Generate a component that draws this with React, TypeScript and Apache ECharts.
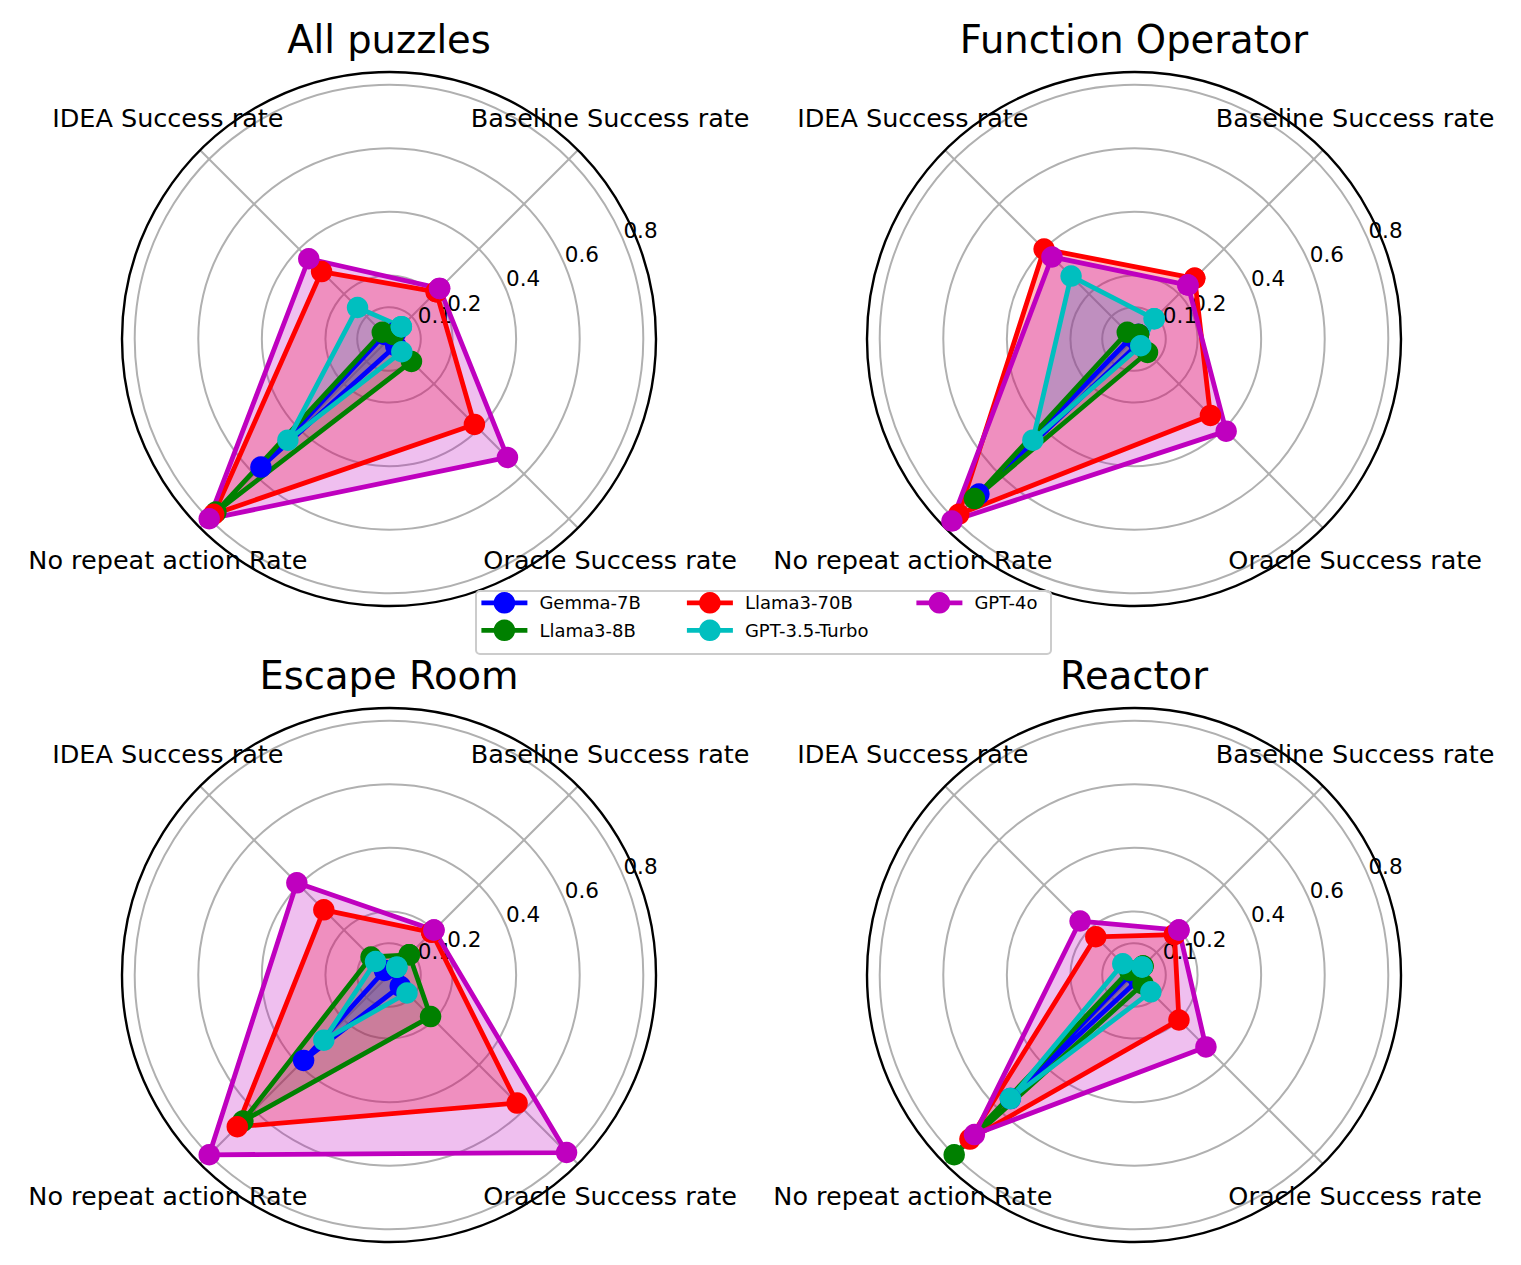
import React, { useEffect, useRef } from 'react';
import * as echarts from 'echarts';

// ---------------- data ----------------
const categories = ['Baseline Success rate', 'IDEA Success rate', 'No repeat action Rate', 'Oracle Success rate'];
const models = ['Gemma-7B', 'Llama3-8B', 'Llama3-70B', 'GPT-3.5-Turbo', 'GPT-4o'];
const panelTitles = ['All puzzles', 'Function Operator', 'Escape Room', 'Reactor'];
const radialTicks = [0.1, 0.2, 0.4, 0.6, 0.8];

// values per model, in category order: Baseline, IDEA, No repeat, Oracle
const allPuzzles = [
  [0.03, 0.02, 0.57, 0.03],
  [0.02, 0.03, 0.77, 0.10],
  [0.21, 0.30, 0.78, 0.38],
  [0.055, 0.14, 0.45, 0.057],
  [0.225, 0.357, 0.80, 0.527],
];
const functionOperator = [
  [0.02, 0.01, 0.69, 0.02],
  [0.02, 0.03, 0.71, 0.06],
  [0.27, 0.40, 0.78, 0.34],
  [0.09, 0.28, 0.45, 0.03],
  [0.24, 0.365, 0.81, 0.41],
];
const escapeRoom = [
  [0.03, 0.02, 0.38, 0.05],
  [0.09, 0.08, 0.65, 0.185],
  [0.19, 0.29, 0.675, 0.57],
  [0.035, 0.06, 0.29, 0.08],
  [0.20, 0.41, 0.80, 0.79],
];
const reactor = [
  [0.02, 0.01, 0.55, 0.02],
  [0.04, 0.02, 0.80, 0.04],
  [0.18, 0.17, 0.73, 0.20],
  [0.036, 0.05, 0.55, 0.075],
  [0.20, 0.24, 0.71, 0.32],
];
const panelValues = [allPuzzles, functionOperator, escapeRoom, reactor];

// ---------------- style / layout ----------------
const modelColors = ['#0000ff', '#008000', '#ff0000', '#00bfbf', '#bf00bf'];
const FONT = 'DejaVu Sans';
const centers = [[389, 339], [1134, 339], [389, 975], [1134, 975]];
const titleTops = [20, 20, 656, 656];
const RADIUS = 267;
const R_MAX = 0.84;
const R_STEP = 0.1;
const GRID_GREY = '#b0b0b0';
const LINE_W = 4.8;
const legendPos = [[479, 592], [479, 619.5], [684.5, 592], [684.5, 619.5], [914, 592]];

function App() {
  const ref = useRef<HTMLDivElement>(null);
  useEffect(() => {
    document.body.style.margin = '0';
    if (!ref.current) return;
    const chart = echarts.init(ref.current, null, { renderer: 'svg' });

    const nSteps = Math.round(R_MAX / R_STEP) + 2;
    const radiusColors: string[] = [];
    for (let k = 0; k < nSteps; k++) {
      const v = Math.round(k * R_STEP * 10) / 10;
      radiusColors.push(k * R_STEP <= R_MAX && radialTicks.some((t) => Math.abs(t - v) < 1e-9) ? GRID_GREY : 'transparent');
    }

    const angleOf = (i: number) => 45 + 90 * i;

    const series: any[] = [];
    panelValues.forEach((panel, p) => {
      // fills first (below lines)
      panel.forEach((vals, m) => {
        const d = vals.map((v, i) => [v, angleOf(i)]);
        d.push([vals[0], angleOf(0)]);
        series.push({
          type: 'line', coordinateSystem: 'polar', polarIndex: p,
          name: models[m] + ' fill', data: d, symbol: 'none', clip: false,
          lineStyle: { width: 0, color: modelColors[m] },
          areaStyle: { color: modelColors[m], opacity: 0.25 },
          z: 1, silent: true,
        });
      });
      // radial tick labels
      series.push({
        type: 'scatter', coordinateSystem: 'polar', polarIndex: p,
        name: 'rticks' + p,
        data: radialTicks.map((t) => ({ name: String(t), value: [t, 22.5] })),
        symbolSize: 1, itemStyle: { color: 'transparent', opacity: 1 }, clip: false, silent: true, z: 1,
        label: {
          show: true, formatter: '{b}', position: [0, 0], align: 'left', verticalAlign: 'bottom',
          fontSize: 21.5, color: '#000', opacity: 1, fontFamily: FONT,
        },
      });
      // lines
      panel.forEach((vals, m) => {
        const d = vals.map((v, i) => [v, angleOf(i)]);
        d.push([vals[0], angleOf(0)]);
        series.push({
          type: 'line', coordinateSystem: 'polar', polarIndex: p,
          name: models[m], data: d, symbol: 'circle', symbolSize: 21.5, showSymbol: true, clip: false,
          lineStyle: { width: LINE_W, color: modelColors[m] },
          itemStyle: { color: modelColors[m] },
          z: 2, silent: true,
        });
      });
      // category labels
      series.push({
        type: 'scatter', coordinateSystem: 'polar', polarIndex: p,
        name: 'cats' + p,
        data: categories.map((c, i) => ({ name: c, value: [0.984, angleOf(i)] })),
        symbolSize: 1, itemStyle: { color: 'transparent', opacity: 1 }, clip: false, silent: true, z: 3,
        label: {
          show: true, formatter: '{b}', position: 'inside',
          fontSize: 25.5, color: '#000', opacity: 1, textBorderWidth: 0, fontFamily: FONT,
        },
      });
    });

    const option: any = {
      animation: false,
      backgroundColor: '#ffffff',
      textStyle: { fontFamily: FONT },
      title: panelTitles.map((t, i) => ({
        text: t, left: centers[i][0], top: titleTops[i], textAlign: 'center', padding: 0,
        textStyle: { fontSize: 38.5, fontWeight: 'normal', color: '#000', fontFamily: FONT },
      })),
      polar: centers.map((c) => ({ center: c, radius: RADIUS })),
      angleAxis: centers.map((_, i) => ({
        polarIndex: i, type: 'value', min: 0, max: 360, interval: 45, startAngle: 0, clockwise: false,
        axisLine: { show: true, lineStyle: { color: '#000', width: 2.4 } },
        axisTick: { show: false }, axisLabel: { show: false },
        splitLine: { show: true, lineStyle: { color: ['transparent', GRID_GREY], width: 2 } },
      })),
      radiusAxis: centers.map((_, i) => ({
        polarIndex: i, type: 'value', min: 0, max: R_MAX, interval: R_STEP,
        axisLine: { show: false }, axisTick: { show: false }, axisLabel: { show: false },
        splitLine: { show: true, lineStyle: { color: radiusColors, width: 2 } },
      })),
      legend: models.map((m, i) => ({
        data: [m], left: legendPos[i][0], top: legendPos[i][1], padding: 0,
        itemWidth: 46, itemHeight: 27, selectedMode: false,
        lineStyle: { width: LINE_W },
        textStyle: { fontSize: 18, color: '#000', fontFamily: FONT, padding: [0, 0, 0, 7] },
      })),
      graphic: [{
        type: 'rect', left: 475, top: 590, z: 3,
        shape: { width: 575, height: 63, r: 4 },
        style: { fill: 'rgba(255,255,255,0.8)', stroke: '#cccccc', lineWidth: 2 },
      }],
      series,
    };
    chart.setOption(option);
    return () => chart.dispose();
  }, []);
  return <div ref={ref} style={{ width: 1521, height: 1265 }} />;
}

export default App;
